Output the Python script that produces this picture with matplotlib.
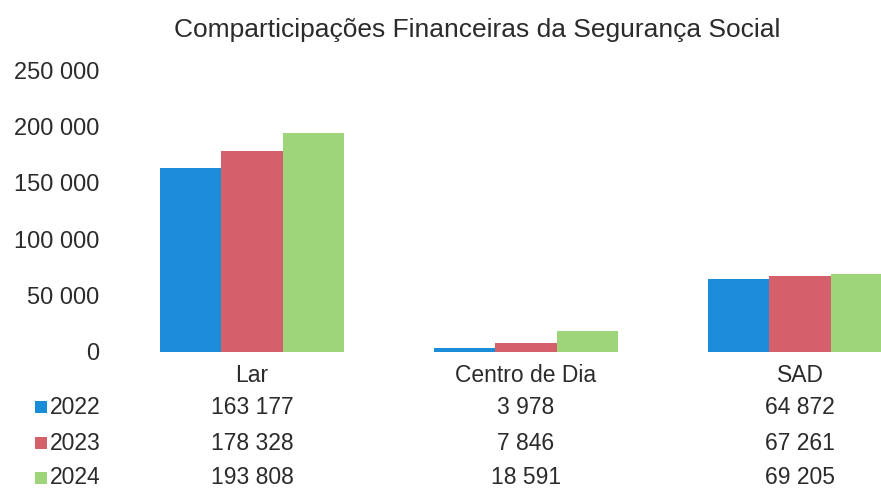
import matplotlib
matplotlib.use("Agg")
import matplotlib.pyplot as plt
from matplotlib.patches import Rectangle
import numpy as np

plt.rcParams['font.family'] = ['Liberation Sans', 'DejaVu Sans']

title = "Comparticipações Financeiras da Segurança Social"
categories = ["Lar", "Centro de Dia", "SAD"]
series = ["2022", "2023", "2024"]
v2022 = [163177, 3978, 64872]
v2023 = [178328, 7846, 67261]
v2024 = [193808, 18591, 69205]
yticks = [0, 50000, 100000, 150000, 200000, 250000]

colors = ["#1a8cd8", "#d4606b", "#9ed47a"]
txt = "#2b2b2b"
fs = 16.5

W, H = 881, 492
fig = plt.figure(figsize=(W / 100, H / 100), dpi=100)

def fx(px):
    return px / W

def fy(py):
    return 1 - py / H

ax = fig.add_axes([fx(115), fy(352), fx(937) - fx(115), fy(70) - fy(352)])
x = np.arange(len(categories))
bw = 0.225
for i, (vals, c) in enumerate(zip([v2022, v2023, v2024], colors)):
    ax.bar(x + (i - 1) * bw, vals, width=bw, color=c, linewidth=0)

ax.set_xlim(-0.5, len(categories) - 0.5)
ax.set_ylim(0, 250000)
ax.set_yticks(yticks)
ax.set_yticklabels([f"{t:,}".replace(",", " ") for t in yticks], fontsize=17, color=txt)
ax.tick_params(axis='y', length=0, pad=11)
ax.set_xticks([])
for s in ax.spines.values():
    s.set_visible(False)

fig.text(fx(477), fy(30), title, ha='center', va='center', fontsize=19, color=txt)

# data table
tr = matplotlib.transforms.blended_transform_factory(ax.transData, fig.transFigure)
row_y = [fy(407), fy(443), fy(478)]
for j, cat in enumerate(categories):
    ax.text(j, fy(375), cat, transform=tr, ha='center', va='center', fontsize=fs, color=txt, clip_on=False)
    for r, vals in enumerate([v2022, v2023, v2024]):
        ax.text(j, row_y[r], f"{vals[j]:,}".replace(",", " "), transform=tr, ha='center', va='center',
                fontsize=fs, color=txt, clip_on=False)

for r, (name, c) in enumerate(zip(series, colors)):
    fig.patches.append(Rectangle((fx(35), row_y[r] - 6 / H), 12 / W, 12 / H, transform=fig.transFigure,
                                 color=c, linewidth=0))
    fig.text(fx(50), row_y[r], name, ha='left', va='center', fontsize=fs, color=txt)

fig.savefig("out.png", dpi=100)
